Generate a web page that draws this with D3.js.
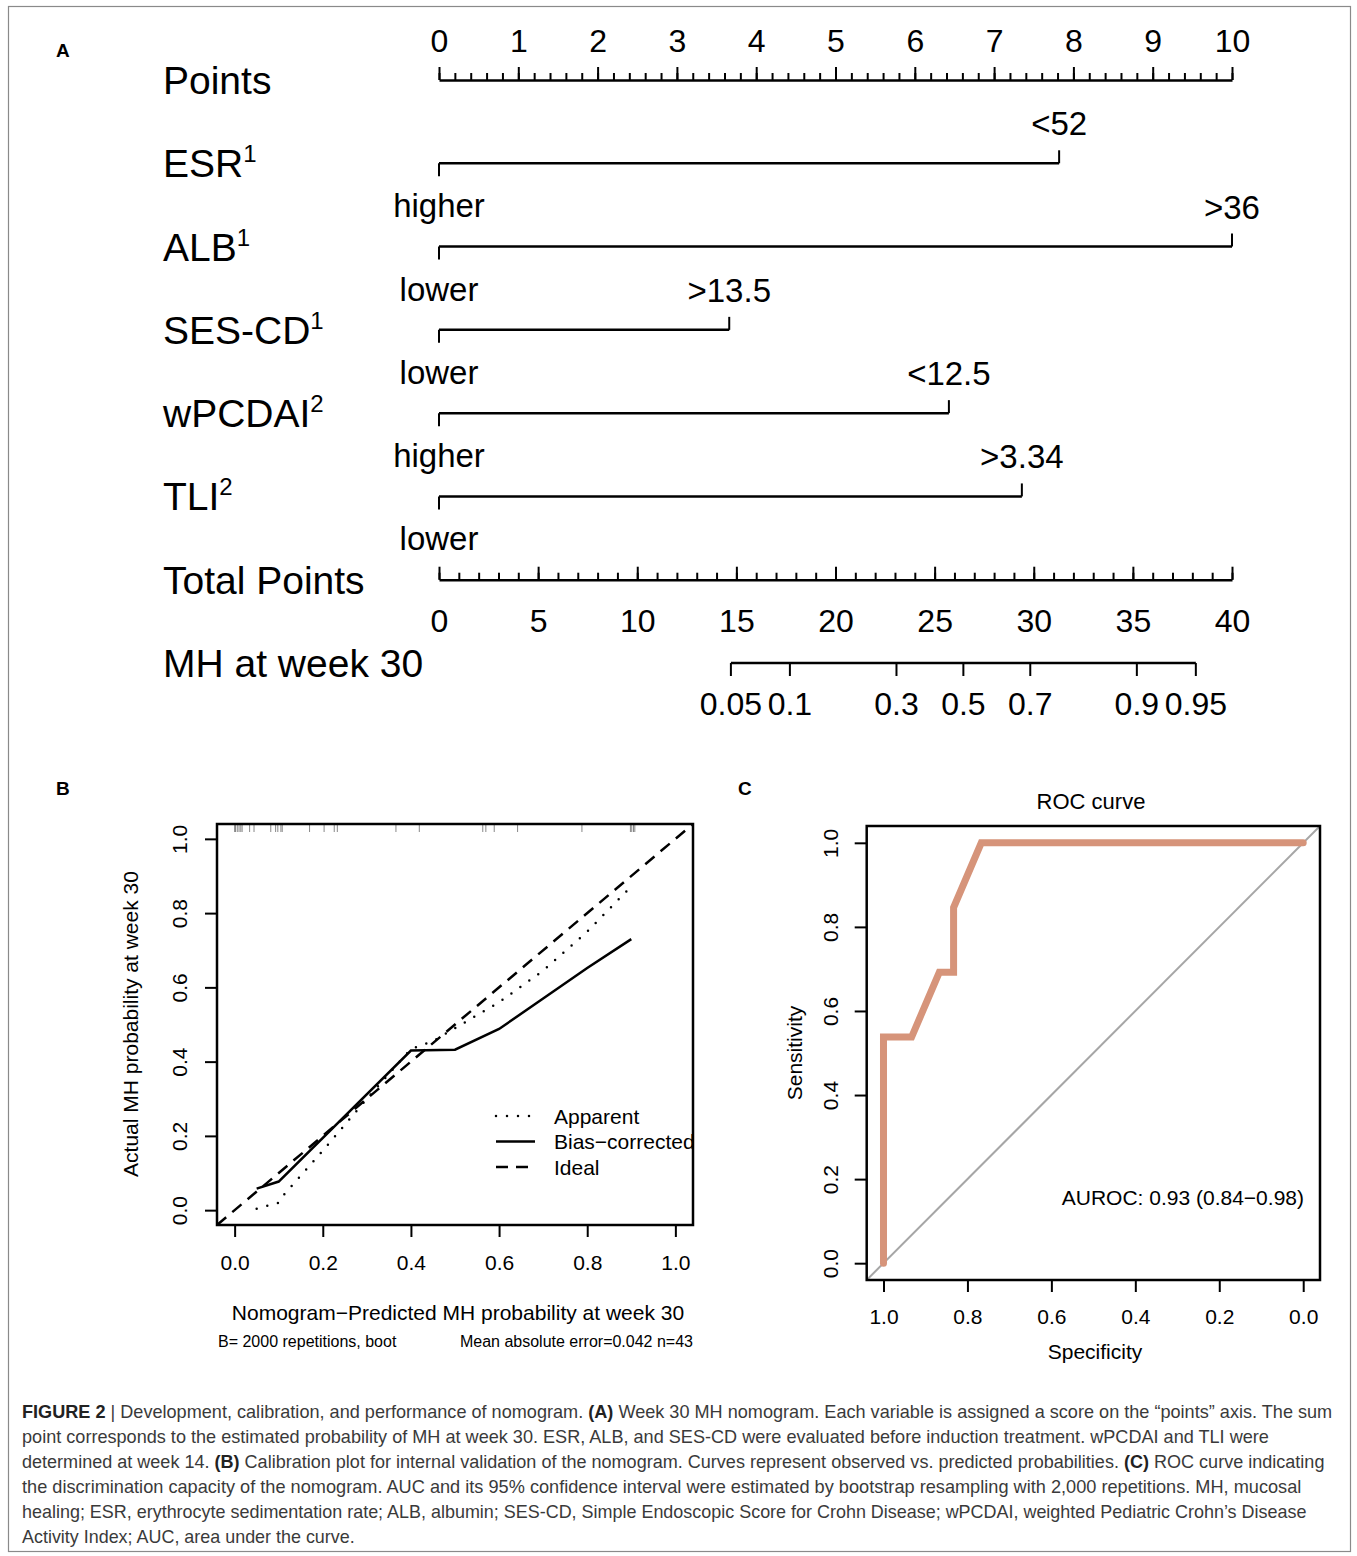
<!DOCTYPE html>
<html>
<head>
<meta charset="utf-8">
<script src="https://cdn.jsdelivr.net/npm/d3@7"></script>
<style>
body { margin: 0; background: #fff; }
svg text { font-family: "Liberation Sans", Arial, Helvetica, sans-serif; }
</style>
</head>
<body>
<script>

var width = 1357,
    height = 1556;

// ---- nomogram (A) ----
var nomoVars = ["ESR", "ALB", "SES-CD", "wPCDAI", "TLI"];
var nomoSup = ["1", "1", "1", "2", "2"];
var nomoPoints = [7.82, 10, 3.66, 6.43, 7.35];
var nomoTopLabels = ["<52", ">36", ">13.5", "<12.5", ">3.34"];
var nomoBottomLabels = ["higher", "lower", "lower", "higher", "lower"];
var pointTicks = [0, 1, 2, 3, 4, 5, 6, 7, 8, 9, 10];
var totalTicks = [0, 5, 10, 15, 20, 25, 30, 35, 40];
var mhProbs = [0.05, 0.1, 0.3, 0.5, 0.7, 0.9, 0.95];
var mhLabels = ["0.05", "0.1", "0.3", "0.5", "0.7", "0.9", "0.95"];
var mhMid = 26.45, mhSlope = 0.2511;   // total points at p=.5, logit per point

// ---- calibration (B) ----
var calTicks = [0, 0.2, 0.4, 0.6, 0.8, 1.0];
var appX = [0.05, 0.10, 0.11, 0.20, 0.30, 0.40, 0.45, 0.50, 0.60, 0.70, 0.80, 0.89];
var appY = [0.004, 0.02, 0.039, 0.16, 0.30, 0.434, 0.455, 0.49, 0.56, 0.645, 0.75, 0.86];
var biasX = [0.05, 0.10, 0.40, 0.50, 0.60, 0.70, 0.80, 0.90];
var biasY = [0.058, 0.077, 0.43, 0.432, 0.488, 0.57, 0.652, 0.73];
var rugPred = [0.0, 0.002, 0.006, 0.01, 0.014, 0.017, 0.034, 0.044, 0.082, 0.093, 0.098, 0.105,
               0.108, 0.17, 0.203, 0.226, 0.233, 0.366, 0.419, 0.563, 0.57, 0.589, 0.642, 0.788,
               0.898, 0.901, 0.905, 0.908];
var legendNames = ["Apparent", "Bias\u2212corrected", "Ideal"];

// ---- ROC (C) ----
var rocTicks = [1.0, 0.8, 0.6, 0.4, 0.2, 0.0];
var rocSpec = [1, 1, 0.933, 0.867, 0.833, 0.833, 0.767, 0];
var rocSens = [0, 0.538, 0.538, 0.692, 0.692, 0.846, 1, 1];

var captionLines = [
  [["FIGURE 2", 1], [" | Development, calibration, and performance of nomogram. ", 0], ["(A)", 1], [" Week 30 MH nomogram. Each variable is assigned a score on the \u201cpoints\u201d axis. The sum", 0]],
  [["point corresponds to the estimated probability of MH at week 30. ESR, ALB, and SES-CD were evaluated before induction treatment. wPCDAI and TLI were", 0]],
  [["determined at week 14. ", 0], ["(B)", 1], [" Calibration plot for internal validation of the nomogram. Curves represent observed vs. predicted probabilities. ", 0], ["(C)", 1], [" ROC curve indicating", 0]],
  [["the discrimination capacity of the nomogram. AUC and its 95% confidence interval were estimated by bootstrap resampling with 2,000 repetitions. MH, mucosal", 0]],
  [["healing; ESR, erythrocyte sedimentation rate; ALB, albumin; SES-CD, Simple Endoscopic Score for Crohn Disease; wPCDAI, weighted Pediatric Crohn\u2019s Disease", 0]],
  [["Activity Index; AUC, area under the curve.", 0]]
];
var captionRight = [1333, 1269, 1325, 1302, 1307, 355];

var svg = d3.select("body").append("svg")
    .attr("width", width)
    .attr("height", height);

svg.append("rect")
    .attr("x", 8.5).attr("y", 6.5)
    .attr("width", 1342).attr("height", 1545)
    .attr("fill", "none").attr("stroke", "#8a8a8a").attr("stroke-width", 1.2);

function cleanAxis(g, keepDomain) {
  g.attr("font-family", null).attr("font-size", null);
  g.selectAll(".tick line").attr("stroke", "#000").attr("stroke-width", 2);
  if (keepDomain) g.select(".domain").attr("stroke", "#000").attr("stroke-width", 2.5);
  else g.select(".domain").remove();
}

function panelLetter(t, x, y) {
  svg.append("text").attr("x", x).attr("y", y)
    .attr("font-size", 19).attr("font-weight", "bold").text(t);
}

// ================= A: nomogram =================
panelLetter("A", 56, 57);

var nomo = svg.append("g");
var xPts = d3.scaleLinear().domain([0, 10]).range([439, 1232]);
var xTot = d3.scaleLinear().domain([0, 40]).range([439, 1232]);
var rowY = d3.scaleLinear().domain([0, 7]).range([80, 663]);

var rowNames = ["Points"].concat(nomoVars, ["Total Points", "MH at week 30"]);
rowNames.forEach(function(name, i) {
  var t = nomo.append("text")
      .attr("x", 163).attr("y", rowY(i) + 14)
      .attr("font-size", 39).text(name);
  if (i >= 1 && i <= 5) {
    t.append("tspan").attr("font-size", 24).attr("dy", -15).text(nomoSup[i - 1]);
  }
});

// points axis
var gPts = nomo.append("g").attr("transform", "translate(0," + rowY(0) + ")");
gPts.call(d3.axisTop(xPts).tickValues(d3.range(0, 10.001, 0.2)).tickSize(7).tickSizeOuter(0).tickFormat(""));
cleanAxis(gPts, true);
var gPtsMaj = gPts.append("g").call(d3.axisTop(xPts).tickValues(pointTicks).tickSize(13).tickSizeOuter(0));
cleanAxis(gPtsMaj, false);
gPtsMaj.selectAll("text").attr("y", -28).attr("dy", null).attr("font-size", 32).attr("fill", "#000");

// variable rows
nomoVars.forEach(function(v, i) {
  var y = rowY(i + 1);
  var g = nomo.append("g");
  g.append("line").attr("x1", xPts(0)).attr("x2", xPts(nomoPoints[i]))
    .attr("y1", y).attr("y2", y).attr("stroke", "#000").attr("stroke-width", 2.5);
  g.append("line").attr("x1", xPts(0)).attr("x2", xPts(0))
    .attr("y1", y).attr("y2", y + 13).attr("stroke", "#000").attr("stroke-width", 2);
  g.append("line").attr("x1", xPts(nomoPoints[i])).attr("x2", xPts(nomoPoints[i]))
    .attr("y1", y - 13).attr("y2", y).attr("stroke", "#000").attr("stroke-width", 2);
  g.append("text").attr("x", xPts(nomoPoints[i])).attr("y", y - 28)
    .attr("text-anchor", "middle").attr("font-size", 33).text(nomoTopLabels[i]);
  g.append("text").attr("x", xPts(0)).attr("y", y + 54)
    .attr("text-anchor", "middle").attr("font-size", 33).text(nomoBottomLabels[i]);
});

// total points axis
var gTot = nomo.append("g").attr("transform", "translate(0," + rowY(6) + ")");
gTot.call(d3.axisTop(xTot).tickValues(d3.range(0, 41, 1)).tickSize(7).tickSizeOuter(0).tickFormat(""));
cleanAxis(gTot, true);
var gTotMaj = gTot.append("g").call(d3.axisTop(xTot).tickValues(totalTicks).tickSize(13).tickSizeOuter(0));
cleanAxis(gTotMaj, false);
gTotMaj.selectAll("text").attr("y", 52).attr("dy", null).attr("font-size", 32).attr("fill", "#000");

// MH probability axis (logit of total points)
function mhPos(p) { return xTot(mhMid + Math.log(p / (1 - p)) / mhSlope); }
var yMH = rowY(7);
var gMH = nomo.append("g");
gMH.append("line").attr("x1", mhPos(mhProbs[0])).attr("x2", mhPos(mhProbs[mhProbs.length - 1]))
  .attr("y1", yMH).attr("y2", yMH).attr("stroke", "#000").attr("stroke-width", 2.5);
gMH.selectAll("line.tk").data(mhProbs).enter().append("line").attr("class", "tk")
  .attr("x1", mhPos).attr("x2", mhPos)
  .attr("y1", yMH).attr("y2", yMH + 13).attr("stroke", "#000").attr("stroke-width", 2);
gMH.selectAll("text").data(mhProbs).enter().append("text")
  .attr("x", mhPos).attr("y", yMH + 52)
  .attr("text-anchor", "middle").attr("font-size", 32)
  .text(function(d, i) { return mhLabels[i]; });

// ================= B: calibration =================
panelLetter("B", 56, 795);

var cal = svg.append("g");
var xC = d3.scaleLinear().domain([-0.04, 1.04]).range([217, 693]);
var yC = d3.scaleLinear().domain([-0.04, 1.04]).range([1225, 824]);
var f1 = d3.format(".1f");

var gxC = cal.append("g").attr("transform", "translate(0,1225)")
  .call(d3.axisBottom(xC).tickValues(calTicks).tickSize(12).tickSizeOuter(0).tickFormat(f1));
cleanAxis(gxC, false);
gxC.selectAll("text").attr("y", 44.5).attr("dy", null).attr("font-size", 21).attr("fill", "#000");

var gyC = cal.append("g").attr("transform", "translate(217,0)")
  .call(d3.axisLeft(yC).tickValues(calTicks).tickSize(12).tickSizeOuter(0).tickFormat(f1));
cleanAxis(gyC, false);
gyC.selectAll("text").attr("x", 0).attr("dy", null).attr("text-anchor", "middle")
  .attr("transform", "translate(-30,0) rotate(-90)").attr("font-size", 21).attr("fill", "#000");

// rug of predicted values
cal.selectAll("line.rug").data(rugPred).enter().append("line").attr("class", "rug")
  .attr("x1", function(d) { return xC(d); }).attr("x2", function(d) { return xC(d); })
  .attr("y1", yC.range()[1]).attr("y2", yC.range()[1] + 8)
  .attr("stroke", "#888").attr("stroke-width", 1);

var calLine = d3.line().x(function(d) { return xC(d[0]); }).y(function(d) { return yC(d[1]); });

cal.append("path").datum([[-0.04, -0.04], [1.04, 1.04]]).attr("d", calLine)
  .attr("fill", "none").attr("stroke", "#000").attr("stroke-width", 2.5).attr("stroke-dasharray", "12,8");
cal.append("path").datum(appX.map(function(x, i) { return [x, appY[i]]; })).attr("d", calLine)
  .attr("fill", "none").attr("stroke", "#000").attr("stroke-width", 2.5)
  .attr("stroke-dasharray", "0,11").attr("stroke-linecap", "round");
cal.append("path").datum(biasX.map(function(x, i) { return [x, biasY[i]]; })).attr("d", calLine)
  .attr("fill", "none").attr("stroke", "#000").attr("stroke-width", 2.5);

cal.append("rect").attr("x", 217).attr("y", 824).attr("width", 476).attr("height", 401)
  .attr("fill", "none").attr("stroke", "#000").attr("stroke-width", 2.5);

// legend
var legDash = [{ d: "0,11", cap: "round" }, { d: null, cap: "butt" }, { d: "12,8", cap: "butt" }];
legendNames.forEach(function(n, i) {
  var y = 1116 + i * 25.5;
  cal.append("line").attr("x1", 496).attr("x2", 535).attr("y1", y).attr("y2", y)
    .attr("stroke", "#000").attr("stroke-width", 2.5)
    .attr("stroke-dasharray", legDash[i].d).attr("stroke-linecap", legDash[i].cap);
  cal.append("text").attr("x", 554).attr("y", y + 7.5).attr("font-size", 21).text(n);
});

cal.append("text").attr("x", 458).attr("y", 1320).attr("text-anchor", "middle")
  .attr("font-size", 21).text("Nomogram\u2212Predicted MH probability at week 30");
cal.append("text").attr("transform", "translate(138,1024) rotate(-90)").attr("text-anchor", "middle")
  .attr("font-size", 21).text("Actual MH probability at week 30");
cal.append("text").attr("x", 218).attr("y", 1347).attr("font-size", 16).text("B= 2000 repetitions, boot");
cal.append("text").attr("x", 693).attr("y", 1347).attr("text-anchor", "end")
  .attr("font-size", 16).text("Mean absolute error=0.042 n=43");

// ================= C: ROC =================
panelLetter("C", 738, 795);

var roc = svg.append("g");
var xR = d3.scaleLinear().domain([1.04, -0.04]).range([866.7, 1320]);
var yR = d3.scaleLinear().domain([-0.04, 1.04]).range([1280, 826]);

var gxR = roc.append("g").attr("transform", "translate(0,1280)")
  .call(d3.axisBottom(xR).tickValues(rocTicks).tickSize(12).tickSizeOuter(0).tickFormat(f1));
cleanAxis(gxR, false);
gxR.selectAll("text").attr("y", 43.5).attr("dy", null).attr("font-size", 21).attr("fill", "#000");

var gyR = roc.append("g").attr("transform", "translate(866.7,0)")
  .call(d3.axisLeft(yR).tickValues(rocTicks).tickSize(12).tickSizeOuter(0).tickFormat(f1));
cleanAxis(gyR, false);
gyR.selectAll("text").attr("x", 0).attr("dy", null).attr("text-anchor", "middle")
  .attr("transform", "translate(-29,0) rotate(-90)").attr("font-size", 21).attr("fill", "#000");

var rocLine = d3.line().x(function(d) { return xR(d[0]); }).y(function(d) { return yR(d[1]); });

roc.append("path").datum([[1.04, -0.04], [-0.04, 1.04]]).attr("d", rocLine)
  .attr("fill", "none").attr("stroke", "#a6a6a6").attr("stroke-width", 2);
roc.append("path").datum(rocSpec.map(function(s, i) { return [s, rocSens[i]]; })).attr("d", rocLine)
  .attr("fill", "none").attr("stroke", "#d6947a").attr("stroke-width", 7)
  .attr("stroke-linecap", "round");

roc.append("rect").attr("x", 866.7).attr("y", 826).attr("width", 453.3).attr("height", 454)
  .attr("fill", "none").attr("stroke", "#000").attr("stroke-width", 2.5);

roc.append("text").attr("x", 1091).attr("y", 809).attr("text-anchor", "middle")
  .attr("font-size", 22).text("ROC curve");
roc.append("text").attr("x", 1095).attr("y", 1359).attr("text-anchor", "middle")
  .attr("font-size", 21).text("Specificity");
roc.append("text").attr("transform", "translate(802,1053) rotate(-90)").attr("text-anchor", "middle")
  .attr("font-size", 21).text("Sensitivity");
roc.append("text").attr("x", 1304).attr("y", 1205).attr("text-anchor", "end")
  .attr("font-size", 21).text("AUROC: 0.93 (0.84\u22120.98)");

// ================= caption =================
captionLines.forEach(function(parts, i) {
  var t = svg.append("text").attr("x", 0).attr("y", 0)
    .attr("font-size", 18).attr("fill", "#3a3a3a");
  parts.forEach(function(p) {
    t.append("tspan").attr("font-weight", p[1] ? "bold" : "normal")
      .attr("fill", p[1] ? "#222" : null).text(p[0]);
  });
  var w = t.node().getComputedTextLength();
  var s = (captionRight[i] - 22) / w;
  t.attr("transform", "translate(22," + (1418 + i * 25) + ") scale(" + s + ",1)");
});

</script>
</body>
</html>
